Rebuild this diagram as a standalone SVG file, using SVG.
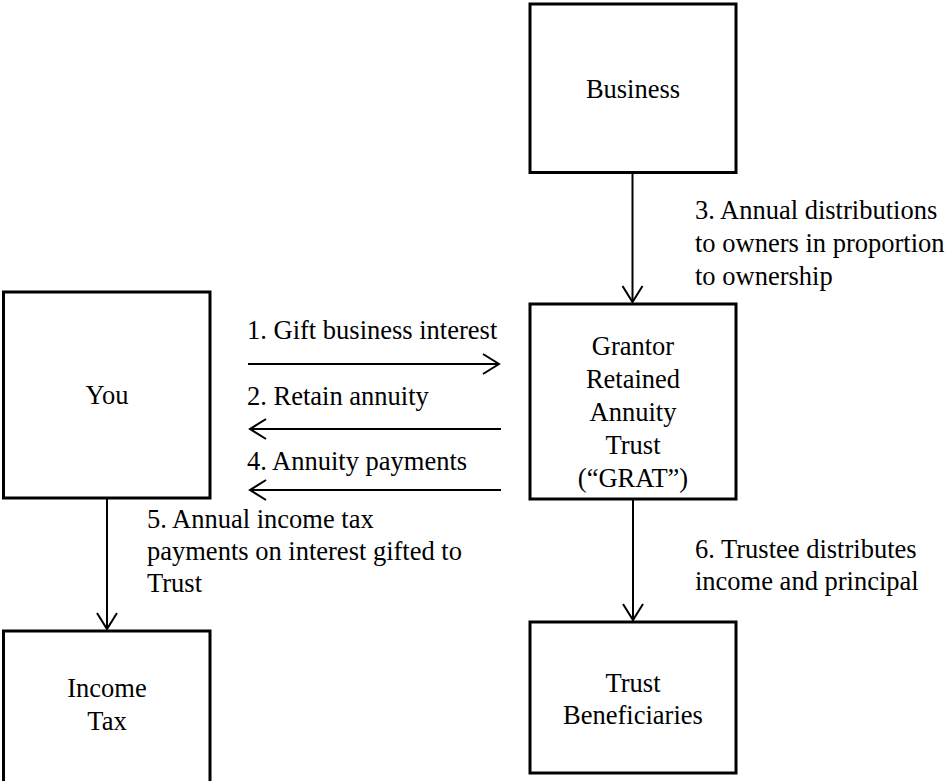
<svg xmlns="http://www.w3.org/2000/svg" width="945" height="781" viewBox="0 0 945 781">
<style>
.box{fill:#fff;stroke:#000;stroke-width:3}
.t{font-family:"Liberation Serif","Times New Roman",serif;font-size:26.5px;fill:#000}
.c{text-anchor:middle}
.ln{stroke:#000;stroke-width:2;fill:none;marker-end:url(#ah)}
</style>
<defs>
<marker id="ah" markerUnits="userSpaceOnUse" viewBox="-18 -12 20 24" refX="0" refY="0" markerWidth="20" markerHeight="24" orient="auto">
<path d="M-16,-10 L0,0 L-16,10" fill="none" stroke="#000" stroke-width="2"/>
</marker>
</defs>
<rect width="945" height="781" fill="#fff"/>
<g id="connectors">
<line class="ln" x1="632.5" y1="173" x2="632.5" y2="302"/>
<line class="ln" x1="248" y1="364" x2="499" y2="364"/>
<line class="ln" x1="501" y1="429" x2="250" y2="429"/>
<line class="ln" x1="501" y1="490" x2="250" y2="490"/>
<line class="ln" x1="107" y1="499" x2="107" y2="629"/>
<line class="ln" x1="633" y1="500" x2="633" y2="620"/>
<text class="t" x="695" y="219">3. Annual distributions</text>
<text class="t" x="695" y="252">to owners in proportion</text>
<text class="t" x="695" y="285">to ownership</text>
<text class="t" x="247" y="339">1. Gift business interest</text>
<text class="t" x="247" y="405">2. Retain annuity</text>
<text class="t" x="247" y="470">4. Annuity payments</text>
<text class="t" x="147" y="528">5. Annual income tax</text>
<text class="t" x="147" y="560">payments on interest gifted to</text>
<text class="t" x="147" y="592">Trust</text>
<text class="t" x="695" y="558">6. Trustee distributes</text>
<text class="t" x="695" y="590">income and principal</text>
</g>
<g id="business">
<rect class="box" x="530" y="4" width="206" height="168.5"/>
<text class="t c" x="633" y="98">Business</text>
</g>
<g id="grat">
<rect class="box" x="530" y="304" width="206" height="195"/>
<text class="t c" x="633" y="355">Grantor</text>
<text class="t c" x="633" y="388">Retained</text>
<text class="t c" x="633" y="421">Annuity</text>
<text class="t c" x="633" y="454">Trust</text>
<text class="t c" x="633" y="487">(“GRAT”)</text>
</g>
<g id="you">
<rect class="box" x="3.5" y="292" width="206.5" height="206"/>
<text class="t c" x="107" y="404">You</text>
</g>
<g id="income-tax">
<rect class="box" x="3.5" y="631" width="206.5" height="160"/>
<text class="t c" x="107" y="697">Income</text>
<text class="t c" x="107" y="730">Tax</text>
</g>
<g id="beneficiaries">
<rect class="box" x="530" y="622" width="206" height="151"/>
<text class="t c" x="633" y="692">Trust</text>
<text class="t c" x="633" y="724">Beneficiaries</text>
</g>
</svg>
